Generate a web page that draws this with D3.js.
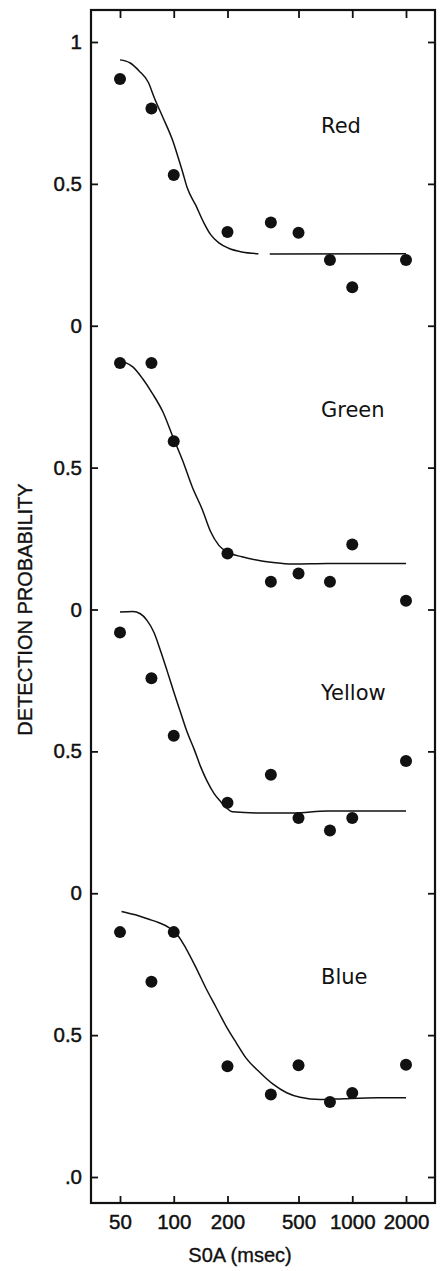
<!DOCTYPE html>
<html>
<head>
<meta charset="utf-8">
<script src="https://cdn.jsdelivr.net/npm/d3@7/dist/d3.min.js"></script>
<style>
  html, body { margin: 0; padding: 0; background: #fff; }
  svg { display: block; }
  .tick-label { font-family: "Liberation Sans", Arial, sans-serif; font-size: 20.5px; fill: #111; stroke: #111; stroke-width: 0.45px; }
  .axis-title { font-family: "Liberation Sans", Arial, sans-serif; font-size: 20px; fill: #111; stroke: #111; stroke-width: 0.35px; }
  .panel-label { font-family: "DejaVu Sans", sans-serif; font-size: 21px; fill: #111; }
</style>
</head>
<body>
<svg id="chart" width="446" height="1271"></svg>
<script>
// Stimulus onset asynchronies (msec) at which detection was measured
const soa = [50, 75, 100, 200, 350, 500, 750, 1000, 2000];

// Panel names, top to bottom
const panelNames = ["Red", "Green", "Yellow", "Blue"];

// Observed detection probabilities for each colour
const redObserved    = [0.87, 0.766, 0.531, 0.33, 0.364, 0.328, 0.232, 0.136, 0.232];
const greenObserved  = [0.869, 0.869, 0.593, 0.197, 0.098, 0.127, 0.098, 0.229, 0.031];
const yellowObserved = [0.919, 0.758, 0.555, 0.319, 0.418, 0.265, 0.221, 0.265, 0.466];
const blueObserved   = [0.863, 0.688, 0.863, 0.390, 0.291, 0.394, 0.264, 0.296, 0.396];

// Fitted curves as [soa, probability]; null marks a break in the line
const redFit = [[50,0.937],[57,0.926],[64,0.898],[72,0.858],[78,0.802],[87,0.734],[99,0.65],
  [105,0.6],[112,0.543],[119,0.486],[133,0.424],[148,0.361],[161,0.321],[179,0.292],
  [203,0.273],[241,0.26],[298,0.254], null, [345,0.253],[2000,0.254]];
const greenFit = [[53,0.872],[59,0.855],[67,0.813],[76,0.761],[87,0.696],[99,0.608],[112,0.526],
  [127,0.432],[145,0.35],[161,0.274],[179,0.226],[203,0.2],[241,0.186],[311,0.171],
  [385,0.164],[475,0.16],[727,0.162],[2000,0.162]];
const yellowFit = [[50,0.991],[59,0.993],[65,0.985],[71,0.961],[77.5,0.919],[84.5,0.853],[92,0.782],
  [100,0.71],[109,0.639],[119,0.567],[130,0.508],[141,0.448],[154,0.394],[168,0.352],
  [183,0.323],[199,0.299],[213,0.287],[306,0.283],[470,0.283],[723,0.29],[2000,0.29]];
const blueFit = [[51,0.936],[61,0.924],[72,0.909],[82,0.897],[94,0.879],[104.5,0.855],[117,0.806],
  [133,0.739],[151,0.667],[172,0.6],[196,0.533],[224,0.473],[255,0.418],[303,0.369],
  [360,0.327],[429,0.297],[510,0.281],[662,0.273],[896,0.276],[1384,0.279],[2000,0.279]];

// Axis tick values and labels
const xTickValues = [50, 100, 200, 500, 1000, 2000];
const yTickValues = [4, 3.5, 3, 2.5, 2, 1.5, 1, 0.5, 0];
const yTickLabels = ["1", "0.5", "0", "0.5", "0", "0.5", "0", "0.5", ".0"];

const panels = [
  { name: panelNames[0], observed: redObserved,    fit: redFit,    offset: 3 },
  { name: panelNames[1], observed: greenObserved,  fit: greenFit,  offset: 2 },
  { name: panelNames[2], observed: yellowObserved, fit: yellowFit, offset: 1 },
  { name: panelNames[3], observed: blueObserved,   fit: blueFit,   offset: 0 }
];

const svg = d3.select("#chart");
const frame = { left: 91, right: 435, top: 10, bottom: 1203 };

// Log-scaled SOA axis, and one stacked probability axis (each panel spans one unit)
const x = d3.scaleLog().domain([50, 2000]).range([120, 406]);
const y = d3.scaleLinear().domain([0, 4]).range([1177, 42]);

const ink = "#111";
const tickLen = 7;

// Frame
svg.append("rect")
  .attr("x", frame.left).attr("y", frame.top)
  .attr("width", frame.right - frame.left).attr("height", frame.bottom - frame.top)
  .attr("fill", "none").attr("stroke", ink).attr("stroke-width", 2.2);

// Bottom axis: inward ticks and labels
const bottomAxis = d3.axisBottom(x).tickValues(xTickValues).tickSize(0).tickPadding(11)
  .tickFormat(d3.format("d"));
const gb = svg.append("g").attr("transform", `translate(0,${frame.bottom})`).call(bottomAxis);
gb.select(".domain").remove();
gb.selectAll("text").attr("class", "tick-label").attr("font-size", null).attr("font-family", null)
  .attr("fill", null).attr("dy", "0.71em");
gb.selectAll(".tick").append("line").attr("y1", 0).attr("y2", -tickLen)
  .attr("stroke", ink).attr("stroke-width", 1.8);

// Top axis: inward ticks only
const gt = svg.append("g").attr("transform", `translate(0,${frame.top})`)
  .call(d3.axisTop(x).tickValues(xTickValues).tickSize(0).tickFormat(""));
gt.select(".domain").remove();
gt.selectAll(".tick").append("line").attr("y1", 0).attr("y2", tickLen + 1)
  .attr("stroke", ink).attr("stroke-width", 1.8);

// Left axis: inward ticks and labels
const leftAxis = d3.axisLeft(y).tickValues(yTickValues).tickSize(0).tickPadding(9)
  .tickFormat((d, i) => yTickLabels[i]);
const gl = svg.append("g").attr("transform", `translate(${frame.left},0)`).call(leftAxis);
gl.select(".domain").remove();
gl.selectAll("text").attr("class", "tick-label").attr("font-size", null).attr("font-family", null)
  .attr("fill", null);
gl.selectAll(".tick").append("line").attr("x1", 0).attr("x2", tickLen)
  .attr("stroke", ink).attr("stroke-width", 1.8);

// Right axis: inward ticks only
const gr = svg.append("g").attr("transform", `translate(${frame.right},0)`)
  .call(d3.axisRight(y).tickValues(yTickValues).tickSize(0).tickFormat(""));
gr.select(".domain").remove();
gr.selectAll(".tick").append("line").attr("x1", 0).attr("x2", -tickLen)
  .attr("stroke", ink).attr("stroke-width", 1.8);

// Axis titles
svg.append("text").attr("class", "axis-title")
  .attr("text-anchor", "middle")
  .attr("transform", `translate(32,${y(2)}) rotate(-90)`)
  .text("DETECTION PROBABILITY");

svg.append("text").attr("class", "axis-title")
  .attr("text-anchor", "middle")
  .attr("x", 240).attr("y", 1262)
  .text("S0A (msec)");

// Panels: fitted curve, observed points, colour label
const line = d3.line()
  .defined(d => d !== null)
  .curve(d3.curveMonotoneX);

panels.forEach(p => {
  const g = svg.append("g").attr("class", "panel");

  g.append("path")
    .attr("d", line.x(d => x(d[0])).y(d => y(p.offset + d[1]))(p.fit))
    .attr("fill", "none").attr("stroke", ink).attr("stroke-width", 1.5);

  g.selectAll("circle")
    .data(p.observed)
    .join("circle")
    .attr("cx", (d, i) => x(soa[i]))
    .attr("cy", d => y(p.offset + d))
    .attr("r", 6)
    .attr("fill", ink);

  g.append("text").attr("class", "panel-label")
    .attr("x", 321).attr("y", y(p.offset + 0.68))
    .text(p.name);
});
</script>
</body>
</html>
